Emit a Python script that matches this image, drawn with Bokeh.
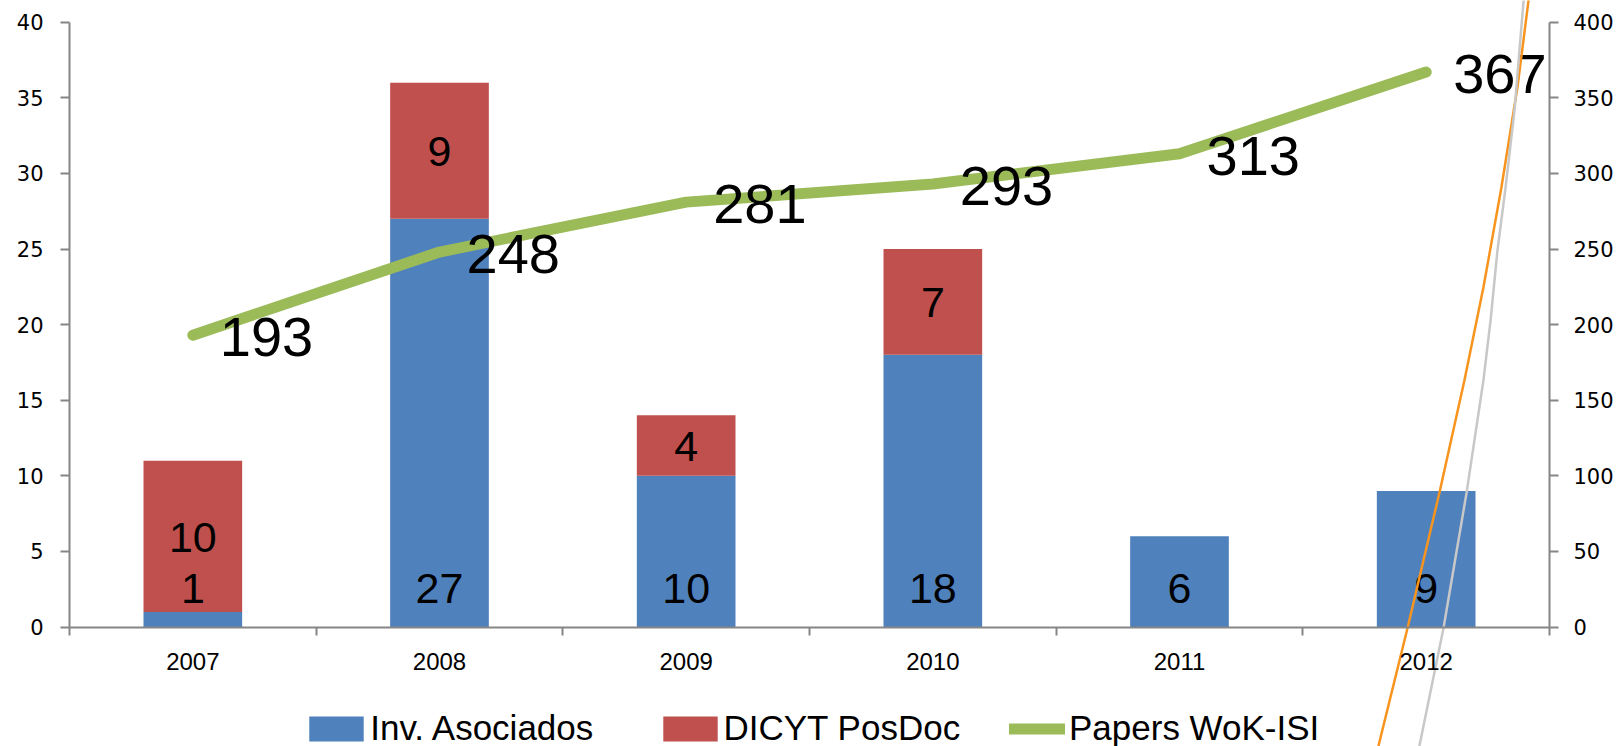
from bokeh.plotting import figure
from bokeh.models import (FactorRange, Range1d, LinearAxis, CategoricalAxis, FixedTicker,
                          Legend, LegendItem, ColumnDataSource)
from bokeh.core.properties import value
from bokeh.embed import file_html
from bokeh.resources import INLINE

# ---------------- data ----------------
years = ["2007", "2008", "2009", "2010", "2011", "2012"]
inv_asociados = [1, 27, 10, 18, 6, 9]
dicyt_posdoc = [10, 9, 4, 7, 0, 0]
papers_wok = [193, 248, 281, 293, 313, 367]
series_names = ["Inv. Asociados", "DICYT PosDoc", "Papers WoK-ISI"]
left_ticks = [0, 5, 10, 15, 20, 25, 30, 35, 40]
right_ticks = [0, 50, 100, 150, 200, 250, 300, 350, 400]

# stray curves crossing the right side (category position, left-axis units)
orange_x = [5.270, 5.307, 5.424, 5.554, 5.655, 5.732, 5.805, 5.870, 5.915, 5.932]
orange_y = [-10.15, -7.84, -0.10, 8.90, 16.30, 22.45, 29.07, 35.69, 41.44, 43.40]
gray_x = [5.444, 5.473, 5.570, 5.664, 5.732, 5.761, 5.789, 5.822, 5.858, 5.895, 5.911]
gray_y = [-10.15, -7.84, -0.10, 8.90, 16.30, 20.27, 24.90, 29.07, 34.16, 41.44, 43.42]

# ---------------- layout / styles ----------------
W, H = 1618, 746
PX_L, PX_R, PX_T, PX_0 = 68, 1548, 21.7, 626.5     # plot area in canvas pixels
LEFT_MAX, RIGHT_MAX = 40, 400
n = len(years)
ux = (PX_R - PX_L) / n
uy = (PX_0 - PX_T) / LEFT_MAX
pad = (W / ux - n) / 2

BLUE, RED, GREEN = "#4f81bd", "#c0504d", "#9bbb59"
AXIS = "#868686"
SANS = "Liberation Sans"

y0 = -(H - PX_0) / uy
y1 = LEFT_MAX + PX_T / uy
p = figure(x_range=FactorRange(*years, range_padding=pad, range_padding_units="absolute"),
           y_range=Range1d(y0, y1), width=W, height=H, output_backend="svg", toolbar_location=None,
           x_axis_location=None, y_axis_location=None, min_border=0)
p.extra_y_ranges = {"right": Range1d(y0 * RIGHT_MAX / LEFT_MAX, y1 * RIGHT_MAX / LEFT_MAX)}
for g in p.grid:
    g.visible = False
p.outline_line_color = None

axis_common = dict(axis_line_color=AXIS, axis_line_width=2,
                   major_tick_line_color=AXIS, major_tick_line_width=2,
                   major_tick_in=0, minor_tick_line_color=None)

yl = LinearAxis(fixed_location=0, bounds=(0, LEFT_MAX), ticker=FixedTicker(ticks=left_ticks),
                major_tick_out=9, major_label_standoff=17, major_label_text_font="DejaVu Sans",
                major_label_text_font_size="21px", major_label_text_color="black", **axis_common)
p.add_layout(yl, "left")

yr = LinearAxis(y_range_name="right", fixed_location=n, bounds=(0, RIGHT_MAX),
                ticker=FixedTicker(ticks=right_ticks), major_tick_out=9, major_label_standoff=15,
                major_label_text_font="DejaVu Sans", major_label_text_font_size="21px",
                major_label_text_color="black", **axis_common)
p.add_layout(yr, "right")

# bottom axis line with tick marks at the category boundaries
bounds = list(range(n + 1))
xb = LinearAxis(fixed_location=0, bounds=(0, n), ticker=FixedTicker(ticks=bounds),
                major_label_overrides={b: "" for b in bounds}, major_tick_out=8,
                major_label_text_font_size="0px", major_label_standoff=0, **axis_common)
p.add_layout(xb, "below")
xc = CategoricalAxis(fixed_location=0, axis_line_color=None, major_tick_line_color=None,
                     major_tick_in=0, major_tick_out=0, major_label_standoff=26,
                     major_label_text_font=SANS, major_label_text_font_size="24px",
                     major_label_text_color="black")
p.add_layout(xc, "below")

src = ColumnDataSource(dict(years=years, inv=inv_asociados, dicyt=dicyt_posdoc, papers=papers_wok))
bars = p.vbar_stack(["inv", "dicyt"], x="years", width=0.4, color=[BLUE, RED], line_width=0, source=src)

line = p.line("years", "papers", source=src, y_range_name="right", line_color=GREEN,
              line_width=11, line_cap="round", line_join="round")

# labels inside the bars
p.text(x=years, y=[0] * n, text=[str(v) for v in inv_asociados],
       text_align="center", text_baseline="middle", y_offset=-38.5,
       text_font=value(SANS), text_font_size="43px", text_color="black")
red_x = [yr_ for yr_, d in zip(years, dicyt_posdoc) if d > 0]
red_y = [i + d / 2 for i, d in zip(inv_asociados, dicyt_posdoc) if d > 0]
red_t = [str(d) for d in dicyt_posdoc if d > 0]
p.text(x=red_x, y=red_y, text=red_t, text_align="center", text_baseline="middle", y_offset=1,
       text_font=value(SANS), text_font_size="43px", text_color="black")

# labels of the line
p.text(x=years, y=papers_wok, text=[str(v) for v in papers_wok], y_range_name="right",
       text_align="left", text_baseline="middle", x_offset=27, y_offset=2,
       text_font=value(SANS), text_font_size="56px", text_color="black")

# stray curves
p.line(orange_x, orange_y, line_color="#f7941e", line_width=2.5)
p.line(gray_x, gray_y, line_color="#c8c8c8", line_width=2.5)

# legend: one entry per box so each sits where the reference puts it
legend_renderers = [bars[0], bars[1], line]
legend_left = [302.2, 655.5, 1009]
glyph_w = [68, 68, 56]
standoff = [-5, -5, 4]
LEG_TOP = 717.2
LEG_H = 31
for name, rend, lx, gw, so in zip(series_names, legend_renderers, legend_left, glyph_w, standoff):
    lg = Legend(items=[LegendItem(label=name, renderers=[rend])],
                orientation="horizontal", location=(lx, H - LEG_TOP - LEG_H),
                glyph_width=gw, glyph_height=LEG_H, label_standoff=so, label_height=LEG_H,
                padding=0, margin=0, border_line_color=None, background_fill_alpha=0,
                label_text_font=SANS, label_text_font_size="35px", label_text_color="black")
    p.add_layout(lg)

open("out.html", "w").write(file_html(p, INLINE))
